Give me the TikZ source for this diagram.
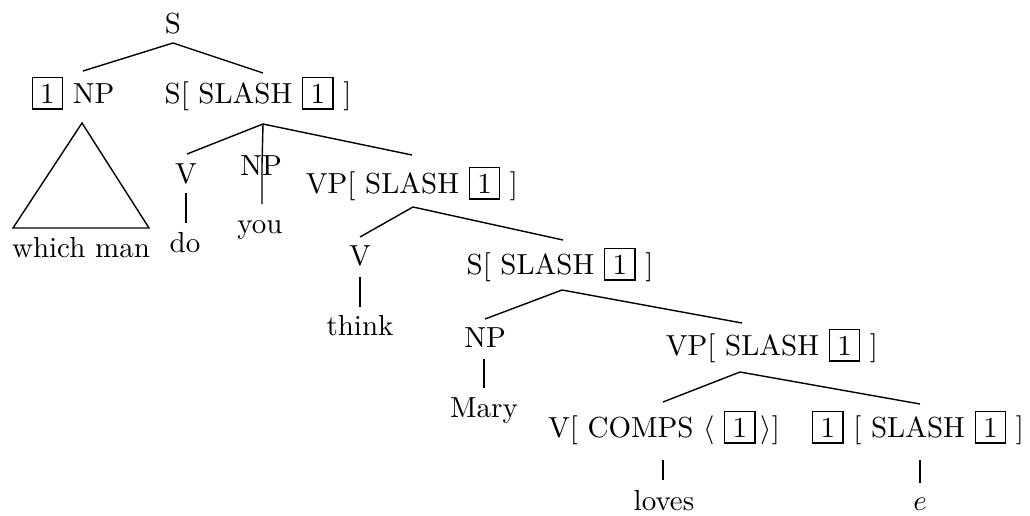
\documentclass[tikz,border=0pt]{standalone}
\newcommand\bx[1]{{\setlength\fboxsep{1.8pt}\setlength\fboxrule{0.45pt}\fbox{\kern0.7pt#1\kern0.7pt}}}
\begin{document}
\begin{tikzpicture}[x=1pt,y=-1pt,
  lbl/.style={anchor=base, inner sep=0pt, scale=2.9, transform shape},
  ln/.style={line width=1.4pt}]
\useasboundingbox (0,0) rectangle (1030,515);
% nodes
\node[lbl] (s) at (173,33) {S};
\node[lbl] (np1) at (73,103) {\bx{1} NP};
\node[lbl] (ss1) at (258,103) {S[ SLASH \bx{1} ]};
\node[lbl] (wm) at (81,257) {which man};
\node[lbl] (v1) at (186,183) {V};
\node[lbl] (do) at (185,252) {do};
\node[lbl] (np2) at (261,175) {NP};
\node[lbl] (you) at (260,233) {you};
\node[lbl] (vp1) at (412,193) {VP[ SLASH \bx{1} ]};
\node[lbl] (v2) at (360,265) {V};
\node[lbl] (think) at (360,335) {think};
\node[lbl] (ss2) at (560,274) {S[ SLASH \bx{1} ]};
\node[lbl] (np3) at (485,347) {NP};
\node[lbl] (mary) at (484,417) {Mary};
\node[lbl] (vp3) at (772,355) {VP[ SLASH \bx{1} ]};
\node[lbl] (v3) at (664,437) {V[ COMPS $\langle$ \bx{1}\,$\rangle$]};
\node[lbl] (gap) at (918,437) {\bx{1} [ SLASH \bx{1} ]};
\node[lbl] (loves) at (664,510) {loves};
\node[lbl] (e) at (920,510) {$e$};
% connectors
\draw[ln] ([shift={(10,-32)}]np1.base) -- ([shift={(0,10)}]s.base) -- ([shift={(5,-30)}]ss1.base);
\draw[ln, line join=miter] ([shift={(9,20)}]np1.base) -- ([shift={(-68,-29)}]wm.base) -- ([shift={(68,-29)}]wm.base) -- cycle;
\draw[ln] ([shift={(1,-29)}]v1.base) -- ([shift={(5,21)}]ss1.base) -- ([shift={(0,-38)}]vp1.base);
\draw[ln] ([shift={(5,21)}]ss1.base) -- ([shift={(1,-10)}]np2.base) -- ([shift={(2,-29)}]you.base);
\draw[ln] ([shift={(0,10)}]v1.base) -- ([shift={(1,-29)}]do.base);
\draw[ln] ([shift={(0,-28)}]v2.base) -- ([shift={(1,14)}]vp1.base) -- ([shift={(3,-34)}]ss2.base);
\draw[ln] ([shift={(0,12)}]v2.base) -- ([shift={(0,-28)}]think.base);
\draw[ln] ([shift={(0,-28)}]np3.base) -- ([shift={(2,16)}]ss2.base) -- ([shift={(-30,-32)}]vp3.base);
\draw[ln] ([shift={(-1,12)}]np3.base) -- ([shift={(0,-29)}]mary.base);
\draw[ln] ([shift={(-1,-35)}]v3.base) -- ([shift={(-32,17)}]vp3.base) -- ([shift={(2,-33)}]gap.base);
\draw[ln] ([shift={(-1,23)}]v3.base) -- ([shift={(-1,-30)}]loves.base);
\draw[ln] ([shift={(2,23)}]gap.base) -- ([shift={(0,-27)}]e.base);
\end{tikzpicture}
\end{document}
